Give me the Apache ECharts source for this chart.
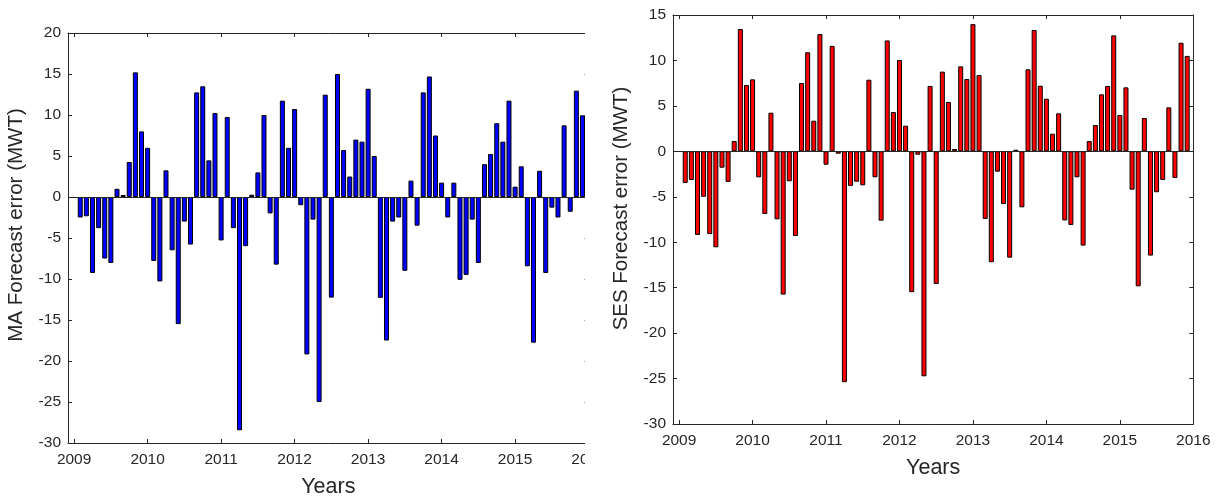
<!DOCTYPE html>
<html>
<head>
<meta charset="utf-8">
<script src="https://cdn.jsdelivr.net/npm/echarts@6/dist/echarts.min.js"></script>
<style>
  html, body { margin: 0; padding: 0; background: #fff; }
  #wrap { position: relative; width: 1220px; height: 498px; background: #fff; overflow: hidden; }
  #leftClip { position: absolute; left: 0; top: 0; width: 585px; height: 498px; overflow: hidden; }
  #left { position: absolute; left: 0; top: 0; width: 620px; height: 498px; }
  #right { position: absolute; left: 600px; top: 0; width: 620px; height: 498px; }
</style>
</head>
<body>
<div id="wrap">
  <div id="leftClip"><div id="left"></div></div>
  <div id="right"></div>
</div>
<script>
// ---- Data (monthly forecast errors, Feb 2009 .. Nov 2015) ----
const startYear = 2009;
const yearTicks = [2009, 2010, 2011, 2012, 2013, 2014, 2015, 2016];

const maErrors = [
  -2.5, -2.35, -9.27, -3.8, -7.5, -8.05, 1.0, 0.25, 4.27, 15.2, 8.0, 6.0,
  -7.8, -10.3, 3.25, -6.5, -15.5, -3.0, -5.8, 12.76, 13.5, 4.47, 10.24, -5.3,
  9.76, -3.8, -28.45, -6.0, 0.28, 3.0, 10.0, -2.0, -8.25, 11.75, 6.0, 10.73,
  -1.0, -19.2, -2.76, -25.0, 12.48, -12.27, 15.0, 5.73, 2.5, 7.0, 6.75, 13.2,
  5.0, -12.3, -17.5, -3.0, -2.5, -9.0, 2.0, -3.5, 12.76, 14.7, 7.5, 1.75,
  -2.5, 1.75, -10.1, -9.5, -2.76, -8.05, 4.0, 5.25, 9.0, 6.75, 11.75, 1.26,
  3.74, -8.45, -17.76, 3.2, -9.27, -1.3, -2.5, 8.74, -1.8, 12.97, 9.96
];

const sesErrors = [
  -3.48, -3.15, -9.2, -5.0, -9.1, -10.56, -1.8, -3.37, 1.14, 13.46, 7.3, 7.92,
  -2.86, -6.9, 4.25, -7.48, -15.76, -3.3, -9.31, 7.52, 10.9, 3.37, 12.9, -1.47,
  11.6, -0.26, -25.4, -3.8, -3.34, -3.74, 7.88, -2.86, -7.63, 12.2, 4.33, 10.05,
  2.82, -15.5, -0.37, -24.75, 7.19, -14.6, 8.77, 5.43, 0.26, 9.35, 7.96, 14.0,
  8.4, -7.44, -12.2, -2.24, -5.8, -11.7, 0.18, -6.16, 9.02, 13.35, 7.22, 5.79,
  1.94, 4.18, -7.6, -8.1, -2.86, -10.37, 1.14, 2.9, 6.27, 7.19, 12.76, 4.0,
  7.04, -4.22, -14.85, 3.67, -11.47, -4.5, -3.15, 4.84, -2.93, 11.95, 10.5
];

const maYTicks = { min: -30, max: 20, interval: 5 };
const sesYTicks = { min: -30, max: 15, interval: 5 };

// ---- Build ----
const FONT = "'Liberation Sans', Arial, Helvetica, sans-serif";
const AX = '#262626';

function toPoints(vals) {
  return vals.map((v, i) => [startYear + (i + 1) / 12, v]);
}

function makeOption(vals, yt, color, yName, grid, yNameGap, xNameGap, yShift) {
  const xMin = startYear - 1 / 12, xMax = 2016;
  const axisLine = { show: true, onZero: false, lineStyle: { color: AX, width: 1 } };
  const tick = (vals) => ({ show: true, inside: true, length: 4, lineStyle: { color: AX }, customValues: vals });
  return {
    animation: false,
    backgroundColor: '#fff',
    grid: Object.assign({ containLabel: false, outerBoundsMode: 'none' }, grid),
    xAxis: [
      {
        type: 'value', min: xMin, max: xMax, position: 'bottom',
        name: 'Years', nameLocation: 'middle', nameGap: xNameGap,
        nameTextStyle: { fontFamily: FONT, fontSize: 21.5, color: AX },
        axisLine: axisLine, axisTick: tick(yearTicks),
        axisLabel: { show: true, customValues: yearTicks, fontFamily: FONT, fontSize: 15.5, color: AX, margin: 9,
          formatter: v => String(Math.round(v)) },
        splitLine: { show: false }
      },
      {
        type: 'value', min: xMin, max: xMax, position: 'top',
        axisLine: axisLine, axisTick: tick(yearTicks),
        axisLabel: { show: false, customValues: yearTicks }, splitLine: { show: false }
      }
    ],
    yAxis: [
      {
        type: 'value', min: yt.min, max: yt.max, interval: yt.interval, position: 'left',
        name: yName, nameLocation: 'middle', nameGap: yNameGap,
        nameTextStyle: { fontFamily: FONT, fontSize: 20.5, color: AX, padding: [0, 0, 0, yShift * 2] },
        axisLine: axisLine, axisTick: { show: true, inside: true, length: 4, lineStyle: { color: AX } },
        axisLabel: { fontFamily: FONT, fontSize: 15.5, color: AX, margin: 7 },
        splitLine: { show: false }
      },
      {
        type: 'value', min: yt.min, max: yt.max, interval: yt.interval, position: 'right',
        axisLine: axisLine, axisTick: { show: true, inside: true, length: 4, lineStyle: { color: AX } },
        axisLabel: { show: false }, splitLine: { show: false }
      }
    ],
    series: [{
      type: 'bar',
      xAxisIndex: 0, yAxisIndex: 0,
      data: toPoints(vals),
      barWidth: 5,
      itemStyle: { color: color, borderColor: '#000', borderWidth: 1 },
      markLine: {
        silent: true, symbol: ['none', 'none'], animation: false,
        label: { show: false },
        lineStyle: { color: AX, type: 'solid', width: 1 },
        data: [{ yAxis: 0 }]
      }
    }]
  };
}

const leftChart = echarts.init(document.getElementById('left'), null, { renderer: 'canvas' });
leftChart.setOption(makeOption(maErrors, maYTicks, '#0000ff', 'MA Forecast error (MWT)',
  { left: 68, right: 31.4, top: 33, bottom: 55 }, 41, 33, 13));

const rightChart = echarts.init(document.getElementById('right'), null, { renderer: 'canvas' });
rightChart.setOption(makeOption(sesErrors, sesYTicks, '#ff0000', 'SES Forecast error (MWT)',
  { left: 73, right: 26.7, top: 15, bottom: 74 }, 41, 33, 11));
</script>
</body>
</html>
